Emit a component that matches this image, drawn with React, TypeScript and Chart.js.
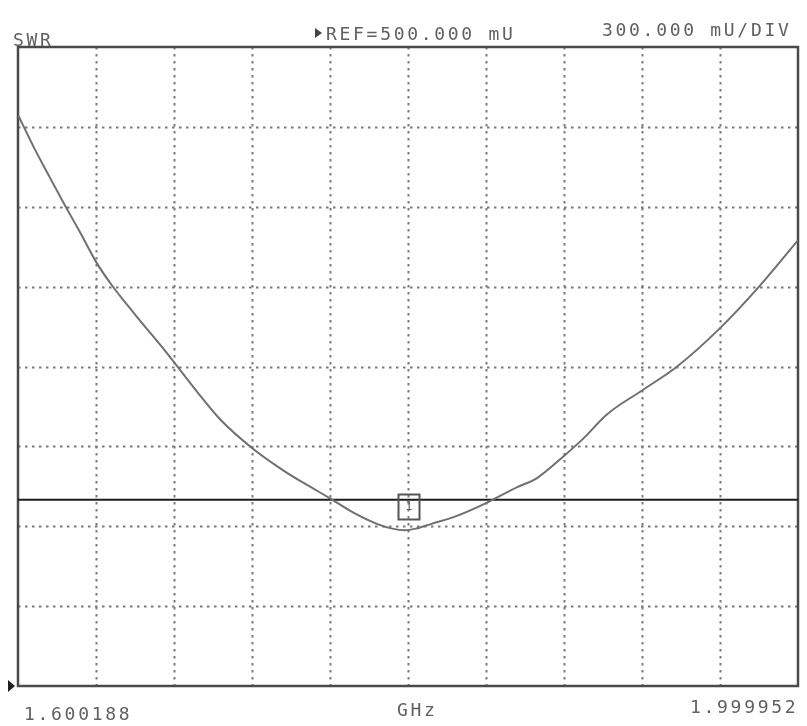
import React, { useEffect, useRef } from "react";
import { Chart, registerables } from "chart.js";

Chart.register(...registerables);

const freqGHz = [
  1.6002, 1.6082, 1.6162, 1.6242, 1.6322, 1.6402, 1.6482, 1.6602, 1.6761, 1.6921,
  1.7041, 1.7201, 1.7361, 1.7481, 1.7601, 1.7721, 1.7841, 1.7921, 1.7981, 1.8041,
  1.8121, 1.8241, 1.8401, 1.8561, 1.866, 1.88, 1.89, 1.902, 1.92, 1.938,
  1.96, 1.98, 1.99995,
];
const swr = [
  2.645, 2.525, 2.414, 2.306, 2.201, 2.093, 2.006, 1.895, 1.754, 1.604,
  1.499, 1.394, 1.31, 1.256, 1.205, 1.151, 1.109, 1.091, 1.085, 1.091,
  1.109, 1.136, 1.187, 1.247, 1.28, 1.364, 1.43, 1.52, 1.61, 1.7,
  1.844, 2.0, 2.174,
];

const startFreq = 1.600188;
const stopFreq = 1.999952;
const refLevel = 0.5; // REF = 500 mU (bottom line)
const perDiv = 0.3; // 300 mU / DIV
const yDivs = 8;
const xDivs = 10;
const limitSwr = 1.2;
const markerFreq = 1.8003;
const markerSwr = 1.176;
const markerLabel = "1";

const headerLabels = ["SWR", "REF=500.000 mU", "300.000 mU/DIV"];
const footerLabels = ["1.600188", "GHz", "1.999952"];

const TEXT_FONT = "18px 'DejaVu Sans Mono', 'Liberation Mono', monospace";

const analyzerPlugin = {
  id: "analyzer",
  beforeDatasetsDraw(chart: any) {
    const { ctx, chartArea, scales } = chart;
    const xs = scales.x;
    const ys = scales.y;
    ctx.save();
    // dotted graticule
    ctx.strokeStyle = "#7a7a7a";
    ctx.lineWidth = 2;
    ctx.setLineDash([2.5, 4.5]);
    for (let i = 1; i < xDivs; i++) {
      const v = startFreq + (i * (stopFreq - startFreq)) / xDivs;
      const px = Math.round(xs.getPixelForValue(v)) + 0.5;
      ctx.beginPath();
      ctx.moveTo(px, chartArea.top);
      ctx.lineTo(px, chartArea.bottom);
      ctx.stroke();
    }
    for (let i = 1; i < yDivs; i++) {
      const v = refLevel + i * perDiv;
      const py = Math.round(ys.getPixelForValue(v)) + 0.5;
      ctx.beginPath();
      ctx.moveTo(chartArea.left, py);
      ctx.lineTo(chartArea.right, py);
      ctx.stroke();
    }
    ctx.setLineDash([]);
    // frame
    ctx.strokeStyle = "#4a4a4a";
    ctx.lineWidth = 2.5;
    ctx.strokeRect(
      chartArea.left,
      chartArea.top,
      chartArea.right - chartArea.left,
      chartArea.bottom - chartArea.top
    );
    ctx.restore();
  },
  afterDatasetsDraw(chart: any) {
    const { ctx, chartArea, scales } = chart;
    const xs = scales.x;
    const ys = scales.y;
    ctx.save();
    // marker box
    const mx = xs.getPixelForValue(markerFreq);
    const my = ys.getPixelForValue(markerSwr);
    ctx.strokeStyle = "#555";
    ctx.lineWidth = 2;
    ctx.strokeRect(Math.round(mx - 10) + 0.5, Math.round(my - 12) + 0.5, 21, 25);
    ctx.fillStyle = "#666";
    ctx.font = "12px 'DejaVu Sans Mono', monospace";
    ctx.textAlign = "center";
    ctx.textBaseline = "middle";
    ctx.fillText(markerLabel, mx + 0.5, my + 1);

    // texts
    ctx.fillStyle = "#606060";
    ctx.font = TEXT_FONT;
    ctx.textAlign = "left";
    ctx.textBaseline = "alphabetic";
    (ctx as any).letterSpacing = "2.7px";
    ctx.fillText(headerLabels[0], 13, 46);
    ctx.fillText(headerLabels[1], 326, 40);
    ctx.fillText(headerLabels[2], 602, 36);
    ctx.fillText(footerLabels[0], 24, 720);
    ctx.fillText(footerLabels[1], 397, 716);
    ctx.fillText(footerLabels[2], 690, 713);
    (ctx as any).letterSpacing = "0px";

    // reference arrow before REF
    ctx.fillStyle = "#444";
    ctx.beginPath();
    ctx.moveTo(315, 28);
    ctx.lineTo(322, 33);
    ctx.lineTo(315, 38);
    ctx.closePath();
    ctx.fill();
    // reference level indicator at bottom-left
    ctx.fillStyle = "#222";
    ctx.beginPath();
    ctx.moveTo(8, chartArea.bottom - 6);
    ctx.lineTo(15, chartArea.bottom);
    ctx.lineTo(8, chartArea.bottom + 6);
    ctx.closePath();
    ctx.fill();
    ctx.restore();
  },
};

export default function App() {
  const canvasRef = useRef<HTMLCanvasElement | null>(null);

  useEffect(() => {
    document.body.style.margin = "0";
    document.body.style.background = "#ffffff";
    const canvas = canvasRef.current;
    if (!canvas) return;
    const chart = new Chart(canvas, {
      type: "line",
      data: {
        datasets: [
          {
            label: "SWR",
            data: freqGHz.map((f, i) => ({ x: f, y: swr[i] })),
            borderColor: "#707070",
            borderWidth: 2,
            pointRadius: 0,
            cubicInterpolationMode: "monotone",
            fill: false,
          },
          {
            label: "Limit",
            data: [
              { x: startFreq, y: limitSwr },
              { x: stopFreq, y: limitSwr },
            ],
            borderColor: "#1c1c1c",
            borderWidth: 2,
            pointRadius: 0,
            tension: 0,
            fill: false,
          },
        ],
      },
      options: {
        animation: false,
        responsive: false,
        maintainAspectRatio: false,
        devicePixelRatio: 1,
        layout: { padding: { left: 18, top: 47, right: 9, bottom: 40 } },
        plugins: {
          legend: { display: false },
          tooltip: { enabled: false },
          title: { display: false },
        },
        scales: {
          x: {
            type: "linear",
            display: false,
            min: startFreq,
            max: stopFreq,
          },
          y: {
            type: "linear",
            display: false,
            min: refLevel,
            max: refLevel + yDivs * perDiv,
          },
        },
      },
      plugins: [analyzerPlugin],
    });
    return () => chart.destroy();
  }, []);

  return (
    <div style={{ position: "absolute", left: 0, top: 0, width: 807, height: 726 }}>
      <canvas ref={canvasRef} width={807} height={726} style={{ display: "block" }} />
    </div>
  );
}
